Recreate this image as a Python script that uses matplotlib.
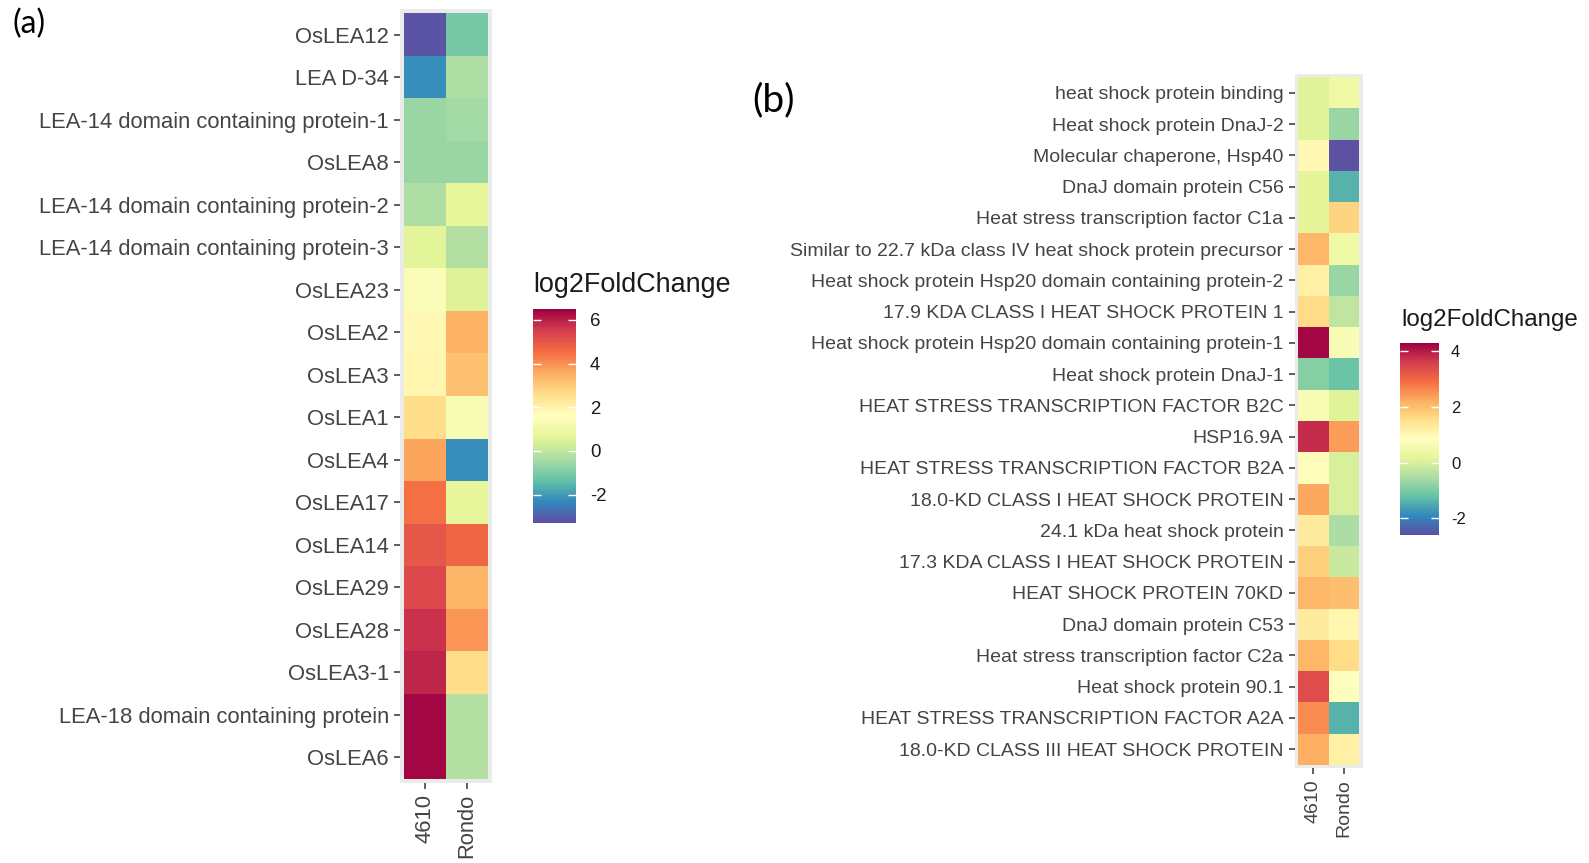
import matplotlib
matplotlib.use('Agg')
import matplotlib.pyplot as plt
import numpy as np
from matplotlib.colors import Normalize
import matplotlib.cm as cm

plt.rcParams['font.family'] = ['Liberation Sans', 'DejaVu Sans']
plt.rcParams['axes.unicode_minus'] = False

samples = ['4610', 'Rondo']

genes_a = ['OsLEA12', 'LEA D-34', 'LEA-14 domain containing protein-1', 'OsLEA8',
           'LEA-14 domain containing protein-2', 'LEA-14 domain containing protein-3',
           'OsLEA23', 'OsLEA2', 'OsLEA3', 'OsLEA1', 'OsLEA4', 'OsLEA17', 'OsLEA14',
           'OsLEA29', 'OsLEA28', 'OsLEA3-1', 'LEA-18 domain containing protein', 'OsLEA6']
a_4610 = [-3.2, -2.2, -0.6, -0.6, -0.3, 0.6, 1.4, 1.8, 1.9, 2.6, 3.7, 4.5, 5.0,
          5.3, 5.7, 5.9, 6.4, 6.4]
a_rondo = [-1.1, -0.3, -0.5, -0.6, 0.7, -0.2, 0.5, 3.5, 3.2, 1.3, -2.2, 0.7, 4.7,
           3.4, 3.9, 2.6, -0.2, -0.2]
limits_a = (-3.3, 6.5)
ticks_a = [-2, 0, 2, 4, 6]

genes_b = ['heat shock protein binding', 'Heat shock protein DnaJ-2',
           'Molecular chaperone, Hsp40', 'DnaJ domain protein C56',
           'Heat stress transcription factor C1a',
           'Similar to 22.7 kDa class IV heat shock protein precursor',
           'Heat shock protein Hsp20 domain containing protein-2',
           '17.9 KDA CLASS I HEAT SHOCK PROTEIN 1',
           'Heat shock protein Hsp20 domain containing protein-1',
           'Heat shock protein DnaJ-1', 'HEAT STRESS TRANSCRIPTION FACTOR B2C',
           'HSP16.9A', 'HEAT STRESS TRANSCRIPTION FACTOR B2A',
           '18.0-KD CLASS I HEAT SHOCK PROTEIN', '24.1 kDa heat shock protein',
           '17.3 KDA CLASS I HEAT SHOCK PROTEIN', 'HEAT SHOCK PROTEIN 70KD',
           'DnaJ domain protein C53', 'Heat stress transcription factor C2a',
           'Heat shock protein 90.1', 'HEAT STRESS TRANSCRIPTION FACTOR A2A',
           '18.0-KD CLASS III HEAT SHOCK PROTEIN']
b_4610 = [0.1, 0.1, 1.0, 0.2, 0.2, 2.1, 1.2, 1.6, 4.2, -0.9, 0.65, 3.8, 0.9, 2.3,
          1.3, 1.75, 2.1, 1.3, 2.1, 3.4, 2.6, 2.2]
b_rondo = [0.4, -0.7, -2.55, -1.4, 1.7, 0.4, -0.7, -0.3, 0.65, -1.15, 0.1, 2.4,
           0.0, 0.0, -0.5, -0.2, 2.0, 1.05, 1.6, 0.8, -1.4, 1.2]
limits_b = (-2.6, 4.3)
ticks_b = [-2, 0, 2, 4]

W, H = 1589, 863
fig = plt.figure(figsize=(W / 100, H / 100), dpi=100)
cmap = 'Spectral_r'


def px_axes(x0, y0, x1, y1):
    return fig.add_axes([x0 / W, 1 - y1 / H, (x1 - x0) / W, (y1 - y0) / H])


def heat(ax, genes, v1, v2, norm, fs):
    data = np.column_stack([v1, v2])
    n = len(genes)
    ax.set_facecolor('#EBEBEB')
    ax.pcolormesh(np.arange(len(samples) + 1) + 0.5, np.arange(n + 1) + 0.5, data,
                  cmap=cmap, norm=norm)
    ax.set_xlim(0.4, len(samples) + 0.6)
    ax.set_ylim(n + 0.6, 0.4)
    ax.set_xticks(np.arange(1, len(samples) + 1))
    ax.set_xticklabels(samples, rotation=90, va='top', ha='center')
    ax.set_yticks(np.arange(1, n + 1))
    ax.set_yticklabels(genes)
    for s in ax.spines.values():
        s.set_visible(False)
    ax.tick_params(length=4, width=1.1, color='#333333', labelcolor='#444444',
                   labelsize=fs, pad=4)


def legend(box, norm, ticks, title_xy, title_fs, tick_fs, pad):
    cax = px_axes(*box)
    cb = fig.colorbar(cm.ScalarMappable(norm=norm, cmap=cmap), cax=cax, ticks=ticks)
    cb.outline.set_visible(False)
    cax.tick_params(axis='y', direction='in', length=(box[2] - box[0]) * 0.14,
                    width=1, color='white', left=True, right=True,
                    labelleft=False, labelright=True, labelsize=tick_fs,
                    labelcolor='#1A1A1A', pad=pad)
    fig.text(title_xy[0] / W, 1 - title_xy[1] / H, 'log2FoldChange',
             va='top', ha='left', fontsize=title_fs, color='#1A1A1A')


norm_a = Normalize(*limits_a)
norm_b = Normalize(*limits_b)

ax_a = px_axes(400, 9, 492, 783)
heat(ax_a, genes_a, a_4610, a_rondo, norm_a, 15.8)
legend((533, 309, 576, 523), norm_a, ticks_a, (533, 272), 19.4, 13.4, 10)

ax_b = px_axes(1294.5, 74, 1362.5, 768)
heat(ax_b, genes_b, b_4610, b_rondo, norm_b, 14)
legend((1400, 343, 1439, 535), norm_b, ticks_b, (1401, 309), 17.4, 12, 8.6)

fig.text(12 / W, 1 - 24 / H, '(a)', ha='left', va='center', fontsize=23,
         family=['Lato', 'DejaVu Sans'], color='black')
fig.text(752 / W, 1 - 100 / H, '(b)', ha='left', va='center', fontsize=28,
         family=['Lato', 'DejaVu Sans'], color='black')

fig.savefig('out.png', dpi=100, facecolor='white')
